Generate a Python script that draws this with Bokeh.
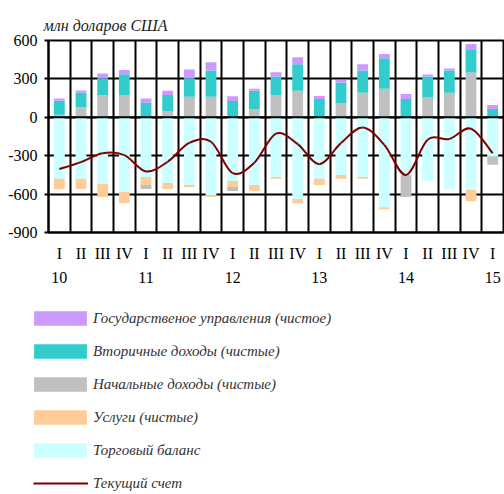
import numpy as np
from bokeh.plotting import figure
from bokeh.layouts import column
from bokeh.models import (ColumnDataSource, FixedTicker, LinearAxis, Range1d,
                          Span, Legend, LegendItem)
from bokeh.embed import file_html
from bokeh.resources import INLINE

# ---- data (млн долларов США), 2010 Q1 .. 2015 Q1 ----
quarters = ["I", "II", "III", "IV", "I", "II", "III", "IV", "I", "II", "III", "IV",
            "I", "II", "III", "IV", "I", "II", "III", "IV", "I"]
years = ["10", "11", "12", "13", "14", "15"]
y_ticks = [600, 300, 0, -300, -600, -900]

trade = [-481, -481, -521, -584, -466, -513, -529, -608, -497, -529, -466, -639,
         -481, -450, -466, -702, -450, -497, -560, -568, -308]
services = [-79, -79, -102, -87, -63, -47, -15, -15, -47, -47, -15, -32,
            -48, -31, -15, -16, 0, 0, 0, -87, 0]
primary = [20, 80, 175, 175, -31, 50, 160, 160, -32, 64, 175, 207,
           0, 112, 191, 223, -173, 159, 191, 350, -63]
secondary = [110, 114, 130, 162, 114, 125, 145, 206, 127, 143, 144, 207,
             143, 159, 175, 239, 143, 160, 175, 176, 64]
government = [16, 16, 37, 32, 32, 32, 69, 64, 38, 16, 32, 56,
              24, 21, 48, 32, 40, 16, 16, 47, 32]
current_account = [-404, -350, -281, -295, -423, -347, -200, -191, -436, -355, -128, -210,
                   -366, -201, -79, -215, -450, -176, -169, -89, -280]

names = ["Торговый баланс", "Услуги (чистые)", "Начальные доходы (чистые)",
         "Вторичные доходы (чистые)", "Государственое управления (чистое)"]
colors = ["#CCFFFF", "#FFCC99", "#C0C0C0", "#33CCCC", "#CC99FF"]
series = [trade, services, primary, secondary, government]
line_name = "Текущий счет"
line_color = "#800000"

SERIF = "Liberation Serif"
n = len(quarters)
idx = np.arange(n)

p = figure(width=504, height=300, output_backend="svg", toolbar_location=None,
           x_range=Range1d(-0.5, n - 0.5), y_range=Range1d(-900, 600),
           min_border_left=48, min_border_right=1, min_border_top=40,
           min_border_bottom=68, background_fill_color="white",
           border_fill_color="white")
p.frame_align = False
p.outline_line_color = "black"
p.outline_line_width = 2

# title (units)
p.title.text = "млн доларов США"
p.title.text_font = SERIF
p.title.text_font_style = "italic"
p.title.text_font_size = "16px"
p.title.text_color = "#222222"
p.title.align = "left"
p.title.offset = -5
p.title.standoff = 13

# grids
p.xgrid.ticker = FixedTicker(ticks=[i - 0.5 for i in range(n + 1)])
p.ygrid.ticker = FixedTicker(ticks=y_ticks)
for g in (p.xgrid[0], p.ygrid[0]):
    g.grid_line_color = "black"
    g.grid_line_width = 2
    g.grid_line_alpha = 1.0

# y axis
ya = p.yaxis[0]
ya.ticker = FixedTicker(ticks=y_ticks)
ya.major_label_overrides = {v: str(v) for v in y_ticks}
ya.major_label_text_font = SERIF
ya.major_label_text_font_size = "16px"
ya.major_label_text_color = "black"
ya.axis_line_color = "black"
ya.axis_line_width = 2
ya.major_tick_out = 4
ya.major_tick_in = 0
ya.major_tick_line_color = "black"
ya.major_tick_line_width = 2
ya.minor_tick_line_color = None
ya.major_label_standoff = 7

# x axis: quarters
xa = p.xaxis[0]
xa.ticker = FixedTicker(ticks=list(idx))
xa.major_label_overrides = {int(i): q for i, q in zip(idx, quarters)}
xa.major_label_text_font = SERIF
xa.major_label_text_font_size = "16px"
xa.major_label_text_color = "black"
xa.axis_line_color = "black"
xa.axis_line_width = 2
xa.major_tick_line_color = None
xa.minor_tick_line_color = None
xa.major_tick_out = 0
xa.major_tick_in = 0
xa.major_label_standoff = 12

# x axis: years under each quarter I
year_pos = [int(i) for i, q in zip(idx, quarters) if q == "I"]
yax = LinearAxis(ticker=FixedTicker(ticks=year_pos),
                 major_label_overrides={pos: y for pos, y in zip(year_pos, years)})
yax.major_label_text_font = SERIF
yax.major_label_text_font_size = "16px"
yax.major_label_text_color = "black"
yax.axis_line_color = None
yax.major_tick_line_color = None
yax.minor_tick_line_color = None
yax.major_tick_out = 0
yax.major_tick_in = 0
yax.major_label_standoff = 7
p.add_layout(yax, "below")

# stacked bars (Excel style: positives up, negatives down, in series order)
pos_base = np.zeros(n)
neg_base = np.zeros(n)
for vals, col in zip(series, colors):
    v = np.array(vals, dtype=float)
    bottom = np.where(v >= 0, pos_base, neg_base)
    top = bottom + v
    pos_base = np.where(v >= 0, pos_base + v, pos_base)
    neg_base = np.where(v < 0, neg_base + v, neg_base)
    src = ColumnDataSource(dict(x=idx, bottom=bottom, top=top))
    p.vbar(x="x", bottom="bottom", top="top", width=0.5, source=src,
           fill_color=col, line_color=None)

# zero axis line on top of bars
p.add_layout(Span(location=0, dimension="width", line_color="black", line_width=2))

# smoothed current-account line (Catmull-Rom segments drawn as Bezier glyphs)
ca = np.array(current_account, dtype=float)
xs = idx.astype(float)
P = np.concatenate([[ca[0]], ca, [ca[-1]]])
X = np.concatenate([[xs[0]], xs, [xs[-1]]])
x0 = X[1:-2]; y0 = P[1:-2]
x1 = X[2:-1]; y1 = P[2:-1]
cx0 = x0 + (X[2:-1] - X[0:-3]) / 6.0
cy0 = y0 + (P[2:-1] - P[0:-3]) / 6.0
cx1 = x1 - (X[3:] - X[1:-2]) / 6.0
cy1 = y1 - (P[3:] - P[1:-2]) / 6.0
bsrc = ColumnDataSource(dict(x0=x0, y0=y0, x1=x1, y1=y1, cx0=cx0, cy0=cy0, cx1=cx1, cy1=cy1))
p.bezier(x0="x0", y0="y0", x1="x1", y1="y1", cx0="cx0", cy0="cy0",
         cx1="cx1", cy1="cy1", source=bsrc, line_color=line_color, line_width=2)

# ---- legend panel (separate figure below the chart) ----
lg = figure(width=504, height=194, output_backend="svg", toolbar_location=None,
            x_range=Range1d(0, 1), y_range=Range1d(0, 1),
            x_axis_location=None, y_axis_location=None,
            min_border=0, min_border_left=0, min_border_right=0,
            min_border_top=0, min_border_bottom=0,
            background_fill_color="white", border_fill_color="white")
lg.frame_align = False
lg.outline_line_color = None
lg.xgrid.visible = False
lg.ygrid.visible = False

legend_style = dict(orientation="vertical", glyph_height=18, label_height=14, spacing=15,
                    padding=0, margin=0, border_line_color=None, background_fill_alpha=0,
                    label_text_font=SERIF, label_text_font_style="italic",
                    label_text_font_size="15px", label_text_color="#333333")

# legend proxies: one point each, placed outside the visible range
bar_items = []
for k in [4, 3, 2, 1, 0]:
    r = lg.vbar(x=[-10], top=[0], bottom=[0], width=0.1, fill_color=colors[k], line_color=None)
    bar_items.append(LegendItem(label=names[k], renderers=[r]))
lr = lg.line(x=[-10, -9], y=[0, 0], line_color=line_color, line_width=2)
line_items = [LegendItem(label=line_name, renderers=[lr])]

legend_bars = Legend(items=bar_items, location=(27, 35), glyph_width=66,
                     label_standoff=0, **legend_style)
legend_line = Legend(items=line_items, location=(33, 2), glyph_width=55,
                     label_standoff=5, **legend_style)
lg.add_layout(legend_bars, "center")
lg.add_layout(legend_line, "center")

open("out.html", "w").write(file_html(column(p, lg, spacing=0), INLINE))
